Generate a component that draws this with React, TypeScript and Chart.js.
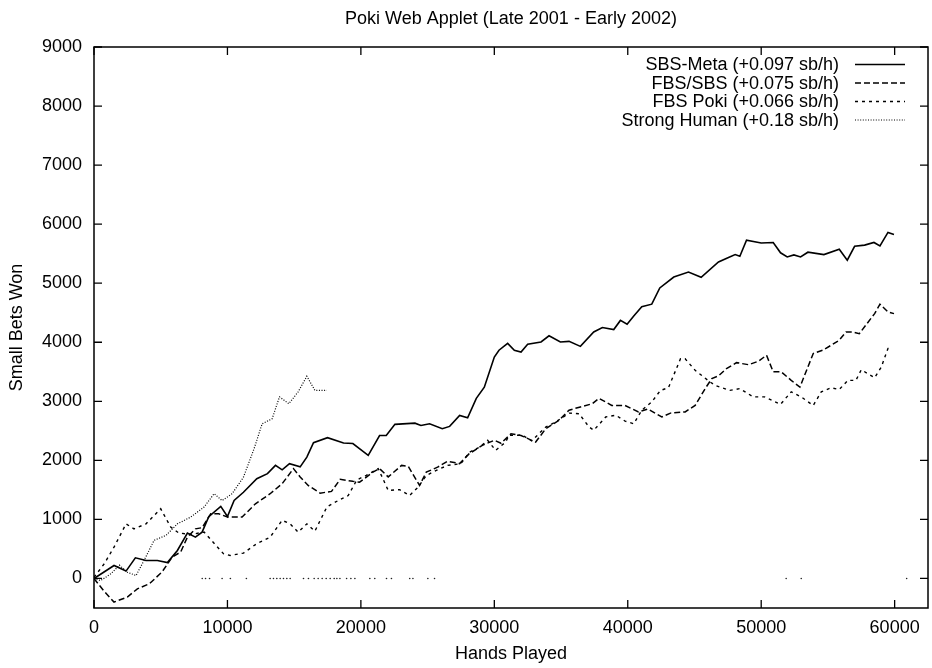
import React, { useEffect, useRef } from "react";
import { Chart, registerables } from "chart.js";

Chart.register(...registerables);

// ---------- data ----------
const chartTitle = "Poki Web Applet (Late 2001 - Early 2002)";
const xAxisTitle = "Hands Played";
const yAxisTitle = "Small Bets Won";

const xTicks = [0, 10000, 20000, 30000, 40000, 50000, 60000];
const yTicks = [0, 1000, 2000, 3000, 4000, 5000, 6000, 7000, 8000, 9000];
const xRange = [0, 62500];
const yRange = [-500, 9000];

const seriesLabels = [
  "SBS-Meta (+0.097 sb/h)",
  "FBS/SBS (+0.075 sb/h)",
  "FBS Poki (+0.066 sb/h)",
  "Strong Human (+0.18 sb/h)",
];

// [hands played, small bets won]
const sbsMeta: [number, number][] = [
  [0, 0], [1500, 220], [2400, 125], [3100, 350], [3900, 305], [4750, 305], [5500, 270],
  [6250, 475], [7000, 770], [7600, 700], [8100, 785], [8600, 1045], [9500, 1220],
  [10000, 1050], [10500, 1320], [11200, 1460], [12200, 1690], [13000, 1775], [13600, 1915],
  [14100, 1840], [14650, 1945], [15450, 1890], [15950, 2055], [16450, 2300], [17500, 2385],
  [18700, 2295], [19400, 2285], [20550, 2085], [21400, 2420], [21900, 2420], [22550, 2610],
  [24050, 2630], [24500, 2590], [25150, 2620], [26100, 2535], [26650, 2575], [27400, 2760],
  [28000, 2720], [28650, 3050], [29250, 3240], [30000, 3750], [30350, 3865], [31000, 3980],
  [31500, 3865], [32000, 3835], [32500, 3965], [33500, 4005], [34100, 4110], [34950, 4005],
  [35600, 4015], [36450, 3930], [37450, 4175], [38100, 4250], [38950, 4215], [39450, 4370],
  [39950, 4305], [40450, 4445], [41050, 4600], [41800, 4645], [42400, 4920], [43450, 5105],
  [44550, 5190], [45500, 5100], [46800, 5360], [47550, 5435], [48050, 5485], [48400, 5455],
  [48900, 5730], [50000, 5680], [50900, 5690], [51450, 5515], [51950, 5445], [52450, 5480],
  [52950, 5445], [53500, 5525], [54700, 5485], [55850, 5575], [56450, 5390], [57000, 5625],
  [57750, 5645], [58450, 5690], [58900, 5630], [59500, 5860], [59950, 5825],
];

const fbsSbs: [number, number][] = [
  [0, 0], [700, -200], [1500, -400], [2500, -315], [3250, -175], [4150, -90], [5100, 110],
  [5850, 360], [6500, 450], [7000, 700], [7600, 840], [8100, 860], [8750, 1095], [9350, 1095],
  [10000, 1040], [11100, 1040], [12100, 1265], [13200, 1435], [14100, 1605], [14950, 1860],
  [15450, 1720], [16050, 1575], [16950, 1445], [17800, 1475], [18450, 1680], [19400, 1645],
  [19900, 1630], [20900, 1800], [21400, 1860], [22050, 1720], [23050, 1915], [23550, 1900],
  [24400, 1575], [24900, 1800], [25750, 1885], [26500, 1985], [27400, 1945], [28100, 2110],
  [29100, 2255], [30000, 2340], [30500, 2290], [31250, 2450], [32000, 2420], [33100, 2310],
  [33850, 2535], [34850, 2680], [35600, 2850], [36450, 2905], [37350, 2960], [37850, 3050],
  [38800, 2930], [39800, 2930], [40800, 2820], [41500, 2870], [42550, 2735], [43200, 2800],
  [44300, 2820], [45050, 2930], [45800, 3215], [46300, 3385], [46800, 3430], [47400, 3555],
  [48150, 3655], [49050, 3620], [49800, 3680], [50400, 3780], [50900, 3500], [51500, 3500],
  [52250, 3355], [52900, 3240], [53900, 3810], [54600, 3865], [55250, 3950], [55850, 4035],
  [56350, 4175], [56850, 4175], [57350, 4145], [58500, 4485], [58900, 4645], [59500, 4515],
  [59950, 4485],
];

const fbsPoki: [number, number][] = [
  [0, 20], [770, 250], [1500, 530], [2400, 925], [3000, 840], [3900, 925], [5000, 1180],
  [5750, 870], [6350, 770], [7250, 745], [8250, 785], [9700, 420], [10200, 390], [11200, 430],
  [12200, 590], [13200, 700], [14100, 985], [14700, 925], [15300, 785], [15950, 925],
  [16550, 800], [17450, 1210], [18300, 1320], [19050, 1405], [19700, 1670], [20400, 1745],
  [21300, 1860], [21650, 1690], [22050, 1490], [22900, 1505], [23650, 1405], [24300, 1550],
  [24900, 1745], [25650, 1830], [26500, 1915], [27500, 1945], [28150, 2140], [28900, 2225],
  [29500, 2340], [30100, 2170], [30850, 2310], [31100, 2425], [32100, 2425], [32800, 2330],
  [33850, 2565], [34600, 2650], [35600, 2800], [36350, 2790], [37100, 2565], [37450, 2510],
  [38350, 2735], [39100, 2765], [39800, 2665], [40450, 2620], [41050, 2850], [41800, 2990],
  [42450, 3185], [43050, 3230], [43950, 3720], [44300, 3720], [45050, 3525], [46150, 3330],
  [46550, 3270], [47650, 3185], [48400, 3215], [49400, 3075], [50250, 3075], [51450, 2950],
  [52250, 3160], [53000, 3075], [53900, 2930], [54500, 3160], [55250, 3230], [55850, 3200],
  [56500, 3355], [57100, 3355], [57500, 3535], [58500, 3400], [59000, 3580], [59500, 3895],
  [59750, 3920],
];

const strongHuman: [number, number][] = [
  [0, 0], [500, -35], [1270, 80], [1900, 225], [2500, 105], [3150, 50], [3750, 305],
  [4500, 645], [5400, 730], [6250, 925], [7250, 1040], [8250, 1210], [9000, 1435],
  [9600, 1320], [10350, 1435], [11200, 1715], [12000, 2200], [12600, 2620], [13350, 2705],
  [13900, 3075], [14600, 2960], [15300, 3160], [15950, 3425], [16550, 3185], [17450, 3185],
];

// scattered specks along the zero line (hands played)
const zeroLineSpecks = [
  8110, 8360, 8660, 9600, 10220, 11420, 13200, 13450, 13700, 13950, 14200, 14450, 14700,
  15700, 16070, 16500, 16800, 17100, 17400, 17700, 18000, 18200, 18430, 18930, 19250, 19550,
  20670, 21040, 21920, 22290, 23660, 23900, 25020, 25520, 51870, 53000, 60900,
];

// ---------- styling ----------
const FONT = "'Liberation Sans', Arial, Helvetica, sans-serif";
const FS = 18;
const INK = "#000";

const lineStyles = [
  { dash: [] as number[], width: 1.6 },
  { dash: [6, 3], width: 1.5 },
  { dash: [3, 4], width: 1.4 },
  { dash: [1, 1.6], width: 1.2 },
];

const framePlugin = {
  id: "gnuFrame",
  afterDraw(chart: any) {
    const { ctx, chartArea } = chart;
    const { left, right, top, bottom } = chartArea;
    const xs = chart.scales.x;
    const ys = chart.scales.y;
    ctx.save();
    ctx.strokeStyle = INK;
    ctx.lineWidth = 1.5;
    ctx.strokeRect(left, top, right - left, bottom - top);
    ctx.lineWidth = 1.3;
    const tl = 8;
    ctx.beginPath();
    xTicks.forEach((v) => {
      const p = xs.getPixelForValue(v);
      ctx.moveTo(p, bottom);
      ctx.lineTo(p, bottom - tl);
      ctx.moveTo(p, top);
      ctx.lineTo(p, top + tl);
    });
    yTicks.forEach((v) => {
      const p = ys.getPixelForValue(v);
      ctx.moveTo(left, p);
      ctx.lineTo(left + tl, p);
      ctx.moveTo(right, p);
      ctx.lineTo(right - tl, p);
    });
    ctx.stroke();

    // title
    ctx.fillStyle = INK;
    ctx.font = `${FS}px ${FONT}`;
    ctx.textAlign = "center";
    ctx.textBaseline = "middle";
    ctx.fillText(chartTitle, (left + right) / 2, 19);

    // legend
    const textRight = 839;
    const sx0 = 855;
    const sx1 = 905;
    const rowY0 = 64.5;
    const rowStep = 18.5;
    ctx.textAlign = "right";
    seriesLabels.forEach((label, i) => {
      const y = rowY0 + i * rowStep;
      ctx.fillStyle = INK;
      ctx.fillText(label, textRight, y + 1);
      const st = lineStyles[i];
      ctx.beginPath();
      ctx.setLineDash(st.dash);
      ctx.lineWidth = st.width;
      ctx.moveTo(sx0, y);
      ctx.lineTo(sx1, y);
      ctx.stroke();
    });
    ctx.setLineDash([]);
    ctx.restore();
  },
};

const toPoints = (arr: [number, number][]) => arr.map(([x, y]) => ({ x, y }));

export default function App() {
  const canvasRef = useRef<HTMLCanvasElement | null>(null);

  useEffect(() => {
    document.body.style.margin = "0";
    document.body.style.overflow = "hidden";
    const canvas = canvasRef.current;
    if (!canvas) return;
    const seriesData = [sbsMeta, fbsSbs, fbsPoki, strongHuman];
    const datasets: any[] = seriesData.map((s, i) => ({
      label: seriesLabels[i],
      data: toPoints(s),
      borderColor: INK,
      borderWidth: lineStyles[i].width,
      borderDash: lineStyles[i].dash,
      pointRadius: 0,
      tension: 0,
      fill: false,
    }));
    datasets.push({
      type: "scatter",
      label: "specks",
      data: zeroLineSpecks.map((x) => ({ x, y: 0 })),
      pointRadius: 0.8,
      backgroundColor: "#222",
      borderWidth: 0,
      showLine: false,
    });

    const chart = new Chart(canvas, {
      type: "line",
      data: { datasets },
      plugins: [framePlugin],
      options: {
        animation: false,
        responsive: false,
        devicePixelRatio: 1,
        layout: { padding: { left: 0, top: 47, right: 2, bottom: 0 } },
        plugins: {
          legend: { display: false },
          title: { display: false },
          tooltip: { enabled: false },
        },
        scales: {
          x: {
            type: "linear",
            min: xRange[0],
            max: xRange[1],
            grid: { display: false, drawTicks: false },
            border: { display: false },
            afterBuildTicks: (scale: any) => {
              scale.ticks = xTicks.map((v) => ({ value: v }));
            },
            afterFit: (scale: any) => {
              scale.height = 60;
            },
            ticks: {
              color: INK,
              padding: 9,
              maxRotation: 0,
              autoSkip: false,
              font: { family: FONT, size: FS },
              callback: (v: any) => String(v),
            },
            title: {
              display: true,
              text: xAxisTitle,
              color: INK,
              font: { family: FONT, size: FS },
              padding: { top: 0, bottom: 3 },
            },
          },
          y: {
            type: "linear",
            min: yRange[0],
            max: yRange[1],
            grid: { display: false, drawTicks: false },
            border: { display: false },
            afterBuildTicks: (scale: any) => {
              scale.ticks = yTicks.map((v) => ({ value: v }));
            },
            afterFit: (scale: any) => {
              scale.width = 94;
            },
            ticks: {
              color: INK,
              padding: 12,
              autoSkip: false,
              font: { family: FONT, size: FS },
              callback: (v: any) => String(v),
            },
            title: {
              display: true,
              text: yAxisTitle,
              color: INK,
              font: { family: FONT, size: FS },
              padding: { top: 6, bottom: 0 },
            },
          },
        },
      },
    } as any);
    return () => chart.destroy();
  }, []);

  return (
    <div style={{ width: 932, height: 668, background: "#fff" }}>
      <canvas ref={canvasRef} width={932} height={668} style={{ display: "block" }} />
    </div>
  );
}
